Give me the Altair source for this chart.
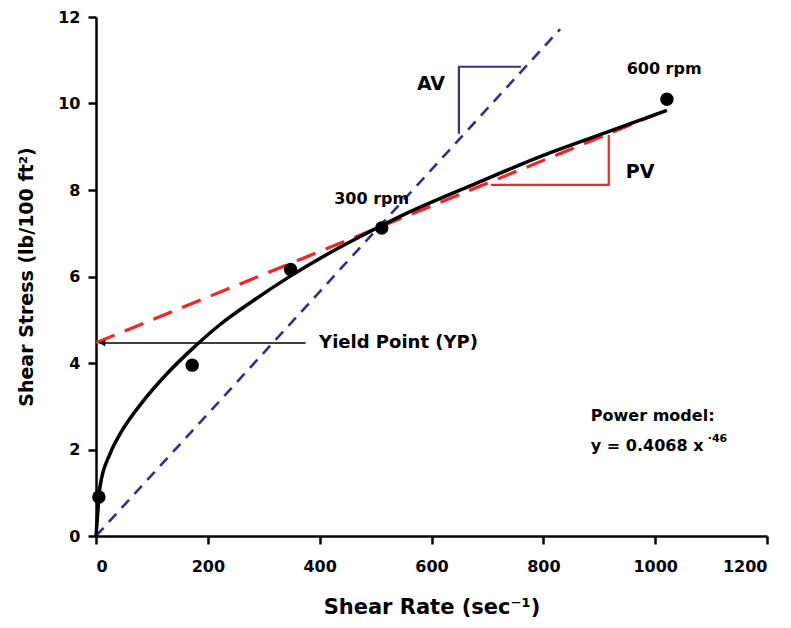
import altair as alt
import pandas as pd

FONT = "DejaVu Sans"

# Measured data points (shear rate, shear stress)
pt_x = [5.1, 172, 348, 511, 1021]
pt_y = [0.9, 3.95, 6.16, 7.12, 10.1]

# Power model curve
curve_x = [0, 3, 7, 25, 43, 85, 126, 174, 222, 281, 349, 424, 484, 544, 681, 800, 919, 1021]
curve_y = [0.0, 0.52, 1.13, 1.9, 2.36, 3.13, 3.74, 4.35, 4.89, 5.44, 6.02, 6.59, 7.0, 7.39, 8.16, 8.8, 9.36, 9.84]

# Apparent viscosity line (blue dashed)
av_x = [0, 830]
av_y = [0, 11.72]

# Plastic viscosity / Bingham line (red dashed)
pv_x = [0, 1021]
pv_y = [4.47, 9.85]

# Slope triangles
av_tri_x = [649, 649, 760]
av_tri_y = [9.3, 10.85, 10.85]
pv_tri_x = [706, 917, 917]
pv_tri_y = [8.12, 8.12, 9.27]

# Yield point arrow
yp_x = [6, 375]
yp_y = 4.46

x_ticks = [0, 200, 400, 600, 800, 1000, 1200]
y_ticks = [0, 2, 4, 6, 8, 10, 12]

xs = alt.Scale(domain=[0, 1200], nice=False, zero=False)
ys = alt.Scale(domain=[0, 12], nice=False, zero=False)

X = lambda f: alt.X(f, type="quantitative", scale=xs,
                    axis=alt.Axis(values=x_ticks, format="d", title="Shear Rate (sec⁻¹)"))
Y = lambda f: alt.Y(f, type="quantitative", scale=ys,
                    axis=alt.Axis(values=y_ticks, format="d", title="Shear Stress (lb/100 ft²)"))

df_pts = pd.DataFrame({"x": pt_x, "y": pt_y})
df_curve = pd.DataFrame({"x": curve_x, "y": curve_y, "o": range(len(curve_x))})
df_av = pd.DataFrame({"x": av_x, "y": av_y})
df_pv = pd.DataFrame({"x": pv_x, "y": pv_y})
df_avt = pd.DataFrame({"x": av_tri_x, "y": av_tri_y, "o": [0, 1, 2]})
df_pvt = pd.DataFrame({"x": pv_tri_x, "y": pv_tri_y, "o": [0, 1, 2]})
df_yp = pd.DataFrame({"x": [yp_x[0]], "x2": [yp_x[1]], "y": [yp_y]})
df_head = pd.DataFrame({"x": [yp_x[0]], "y": [yp_y]})

BLUE = "#2E3192"
RED = "#F42525"

av_line = alt.Chart(df_av).mark_line(color=BLUE, strokeWidth=2.6, strokeDash=[11, 8]).encode(x=X("x"), y=Y("y"))
pv_line = alt.Chart(df_pv).mark_line(color=RED, strokeWidth=3.2, strokeDash=[20, 11]).encode(x=X("x"), y=Y("y"))
curve = alt.Chart(df_curve).mark_line(color="black", strokeWidth=3.5, interpolate="monotone").encode(
    x=X("x"), y=Y("y"), order="o:Q")
avt = alt.Chart(df_avt).mark_line(color=BLUE, strokeWidth=2.2).encode(x=X("x"), y=Y("y"), order="o:Q")
pvt = alt.Chart(df_pvt).mark_line(color=RED, strokeWidth=2.2).encode(x=X("x"), y=Y("y"), order="o:Q")
yp_rule = alt.Chart(df_yp).mark_rule(color="black", strokeWidth=1.5).encode(x=X("x"), x2="x2", y=Y("y"))
yp_head = alt.Chart(df_head).mark_point(shape="triangle-left", filled=True, color="black", size=45, opacity=1,
                                        xOffset=3).encode(x=X("x"), y=Y("y"))
pts = alt.Chart(df_pts).mark_circle(color="black", size=180, opacity=1).encode(x=X("x"), y=Y("y"))

labels = pd.DataFrame({
    "x": [493, 1016, 599, 973],
    "y": [7.8, 10.8, 10.45, 8.42],
    "t": ["300 rpm", "600 rpm", "AV", "PV"],
    "s": [16, 16, 19, 19],
})
lab = alt.Chart(labels).mark_text(font=FONT, fontWeight="bold", color="black", align="center", baseline="middle").encode(
    x=X("x"), y=Y("y"), text="t:N", size=alt.Size("s:Q", scale=None, legend=None))

left_labels = pd.DataFrame({
    "x": [399, 885, 885],
    "y": [4.46, 2.78, 2.09],
    "t": ["Yield Point (YP)", "Power model:", "y = 0.4068 x"],
    "s": [18, 16, 16],
})
llab = alt.Chart(left_labels).mark_text(font=FONT, fontWeight="bold", color="black", align="left", baseline="middle").encode(
    x=X("x"), y=Y("y"), text="t:N", size=alt.Size("s:Q", scale=None, legend=None))

sup = pd.DataFrame({"x": [1094], "y": [2.25], "t": ["·46"]})
suplab = alt.Chart(sup).mark_text(font=FONT, fontWeight="bold", color="black", align="left", baseline="middle",
                                  fontSize=11).encode(x=X("x"), y=Y("y"), text="t:N")

chart = alt.layer(av_line, pv_line, curve, avt, pvt, yp_rule, yp_head, pts, lab, llab, suplab).properties(
    width=671, height=519,
    padding={"left": 88, "top": 9, "right": 16, "bottom": 84},
    autosize=alt.AutoSizeParams(type="none"),
).configure_view(stroke=None).configure_axis(
    grid=False,
    domainColor="black", domainWidth=2.5,
    tickColor="black", tickWidth=2.5, tickSize=8,
    labelFont=FONT, labelFontWeight="bold", labelFontSize=16, labelColor="black",
    titleFont=FONT, titleFontWeight="bold", titleColor="black",
).configure_axisX(labelPadding=14, titlePadding=22, titleFontSize=21).configure_axisY(
    labelPadding=8, titlePadding=21, titleFontSize=19)

chart.save("out.html", embed_options={"renderer": "svg", "actions": False})
